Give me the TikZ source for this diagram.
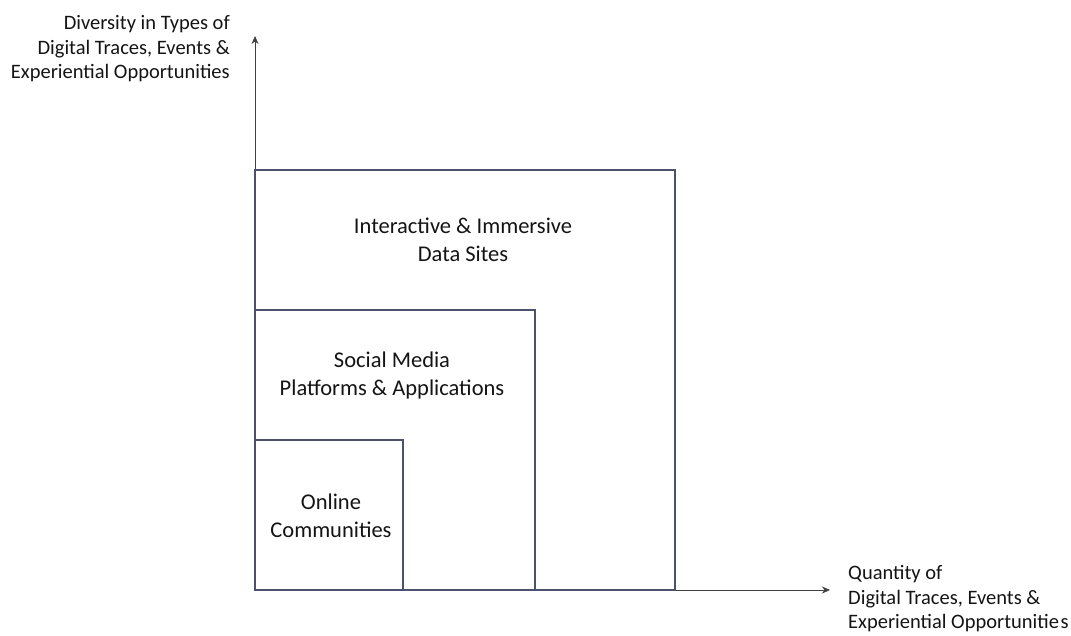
\documentclass[tikz,border=0pt]{standalone}
\usepackage{fontspec}
\setmainfont{Carlito}
\usetikzlibrary{arrows.meta}

\definecolor{boxline}{RGB}{74,82,110}
\definecolor{txt}{RGB}{20,20,20}

\begin{document}
\begin{tikzpicture}
	[x=1pt,y=-1pt,
	 every node/.style={inner sep=0pt, text=txt, align=center},
	 axislabel/.style={font=\fontsize{20.5}{24.5}\selectfont},
	 levellabel/.style={font=\fontsize{22.5}{28}\selectfont},
	 axis/.style={-{Stealth[length=8pt,width=7pt]}, line width=0.8pt, draw=black!75},
	 level/.style={draw=boxline, line width=1.3pt}];

	\useasboundingbox (0,0) rectangle (1071,635);

	%Axis
	\coordinate (o) at (255,590);
	\coordinate (x) at (830,590);
	\coordinate (y) at (255,36);
	\draw[axis] (o)--(x);
	\draw[axis] (o)--(y);
	\node[axislabel, anchor=east, align=right] (ylab) at (230,49) {Diversity in Types of\\Digital Traces, Events \&\\Experiential Opportunities};
	\node[axislabel, anchor=west, align=left] (xlab) at (848,599) {Quantity of\\Digital Traces, Events \&\\Experiential Opportunitie\hspace{1.5pt}s};

	%Nested levels
	\draw[level] (o) rectangle (675,170);
	\draw[level] (o) rectangle (535,310);
	\draw[level] (o) rectangle (403,440);

	\node[levellabel] (sites) at (463,240) {Interactive \& Immersive\\Data Sites};
	\node[levellabel] (social) at (392,375) {Social Media\\Platforms \& Applications};
	\node[levellabel] (online) at (331,516) {Online\\Communities};
\end{tikzpicture}
\end{document}
